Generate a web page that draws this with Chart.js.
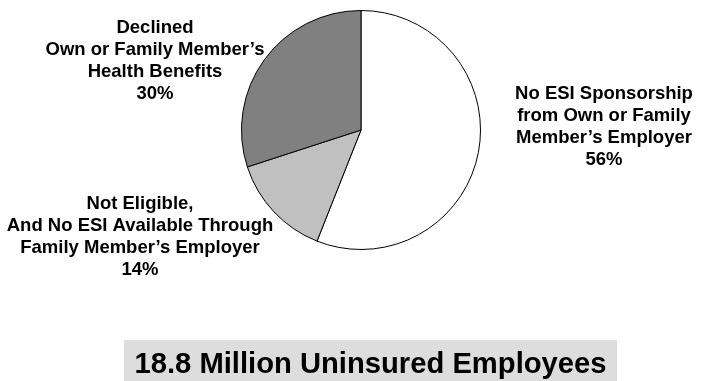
<!DOCTYPE html>
<html>
<head>
<meta charset="utf-8">
<script src="https://cdn.jsdelivr.net/npm/chart.js@4.4.0/dist/chart.umd.min.js"></script>
<style>
  html, body { margin: 0; padding: 0; background: #fff; }
  #wrap { position: relative; width: 704px; height: 381px; }
</style>
</head>
<body>
<div id="wrap"><canvas id="myChart" width="704" height="381"></canvas></div>
<script>
// uninsured employees by reason (percent)
const categories = [
  ['No ESI Sponsorship', 'from Own or Family', 'Member\u2019s Employer'],
  ['Not Eligible,', 'And No ESI Available Through', 'Family Member\u2019s Employer'],
  ['Declined', 'Own or Family Member\u2019s', 'Health Benefits']
];
const shares = [56, 14, 30];
const sliceColors = ['#ffffff', '#c0c0c0', '#808080'];
const totalLabel = '18.8 Million Uninsured Employees';

// where each label block sits, relative to the pie centre
const labelOffsets = [
  { dx: 243, dy: -31 },
  { dx: -221, dy: 79 },
  { dx: -206, dy: -97 }
];

const FONT = '"Liberation Sans", Arial, sans-serif';

const sliceLabels = {
  id: 'sliceLabels',
  afterDraw(chart) {
    const ctx = chart.ctx;
    const arc = chart.getDatasetMeta(0).data[0];
    const cx = arc.x, cy = arc.y;
    ctx.save();
    ctx.fillStyle = '#000';
    ctx.textAlign = 'center';
    ctx.textBaseline = 'alphabetic';
    ctx.font = 'bold 18.5px ' + FONT;
    categories.forEach((lines, i) => {
      const all = lines.concat([shares[i] + '%']);
      const off = labelOffsets[i];
      all.forEach((txt, j) => {
        ctx.fillText(txt, cx + off.dx, cy + off.dy + j * 22);
      });
    });

    // total banner underneath
    ctx.fillStyle = '#dddddd';
    ctx.fillRect(124, 340, 493, 41);
    ctx.fillStyle = '#000';
    ctx.font = 'bold 29.2px ' + FONT;
    ctx.fillText(totalLabel, 370.5, 373);
    ctx.restore();
  }
};

const ctx = document.getElementById('myChart').getContext('2d');
const myChart = new Chart(ctx, {
  type: 'pie',
  data: {
    labels: categories.map(l => l.join(' ')),
    datasets: [{
      data: shares,
      backgroundColor: sliceColors,
      borderColor: '#000000',
      borderWidth: 1
    }]
  },
  options: {
    responsive: false,
    animation: false,
    layout: {
      padding: { left: 241, right: 223, top: 10, bottom: 131 }
    },
    plugins: {
      legend: { display: false },
      tooltip: { enabled: false }
    }
  },
  plugins: [sliceLabels]
});
</script>
</body>
</html>
